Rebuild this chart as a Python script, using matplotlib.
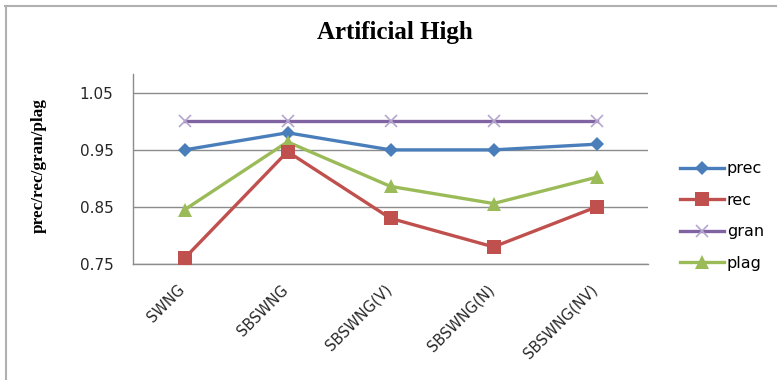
import matplotlib
matplotlib.use("Agg")
import matplotlib.pyplot as plt
import matplotlib.transforms as mtransforms
from matplotlib.lines import Line2D

categories = ["SWNG", "SBSWNG", "SBSWNG(V)", "SBSWNG(N)", "SBSWNG(NV)"]
prec = [0.95, 0.98, 0.95, 0.95, 0.96]
rec = [0.76, 0.947, 0.83, 0.78, 0.85]
gran = [1.0, 1.0, 1.0, 1.0, 1.0]
plag = [0.845, 0.964, 0.886, 0.856, 0.902]
y_ticks = [0.75, 0.85, 0.95, 1.05]
y_tick_labels = ["0.75", "0.85", "0.95", "1.05"]

W, H = 777, 380
fig = plt.figure(figsize=(W / 100, H / 100), dpi=100)

# chart frame (only top and left edges fall within the image)
fig.add_artist(Line2D([5 / W, 1.0], [1 - 5.5 / H, 1 - 5.5 / H],
                      color="#b0b0b0", lw=1.5, transform=fig.transFigure))
fig.add_artist(Line2D([6 / W, 6 / W], [0, 1 - 5.5 / H],
                      color="#b0b0b0", lw=1.5, transform=fig.transFigure))

ax = fig.add_axes([133 / W, 1 - 264 / H, (648 - 133) / W, (264 - 74) / H])

x = list(range(len(categories)))
ax.plot(x, gran, color="#8064A2", lw=2.4, marker="x", ms=9, mew=1.2,
        mec="#B5A6CF", label="gran", zorder=3)
ax.plot(x, prec, color="#4A7EBB", lw=2.4, marker="D", ms=7.5, mew=0,
        label="prec", zorder=4)
ax.plot(x, plag, color="#9BBB59", lw=2.4, marker="^", ms=10, mew=0,
        label="plag", zorder=4)
ax.plot(x, rec, color="#C0504D", lw=2.4, marker="s", ms=10, mew=0,
        label="rec", zorder=5)

ax.set_xlim(-0.5, len(categories) - 0.5)
ax.set_ylim(0.75, 1.083)
ax.set_yticks(y_ticks)
ax.set_yticklabels(y_tick_labels)
ax.yaxis.grid(True, color="#8c8c8c", lw=1)
ax.set_axisbelow(True)
ax.tick_params(axis="y", length=0, pad=14, labelsize=11, labelcolor="#262626")
ax.tick_params(axis="x", length=0, pad=13, labelsize=10.5, labelcolor="#262626")
ax.set_xticks(x)
ax.set_xticklabels(categories, rotation=45, ha="right", rotation_mode="anchor",
                   family="DejaVu Sans")
shift = mtransforms.ScaledTranslation(-7 / 100, 0, fig.dpi_scale_trans)
for lab in ax.get_xticklabels():
    lab.set_transform(lab.get_transform() + shift)

for s in ("top", "right"):
    ax.spines[s].set_visible(False)
for s in ("left", "bottom"):
    ax.spines[s].set_color("#8c8c8c")
    ax.spines[s].set_linewidth(1)

ax.set_ylabel("prec/rec/gran/plag", family="Liberation Serif", fontweight="bold",
              fontsize=12.3)
ax.yaxis.set_label_coords((47 - 133) / 515, 0.52)

fig.text(395 / W, 1 - 32 / H, "Artificial High", ha="center", va="center",
         family="Liberation Serif", fontweight="bold", fontsize=18)

handles, labels = ax.get_legend_handles_labels()
order = ["prec", "rec", "gran", "plag"]
hmap = dict(zip(labels, handles))
leg = fig.legend([hmap[k] for k in order], order, loc="center left",
                 bbox_to_anchor=(666 / W, 1 - 216 / H), frameon=False,
                 prop={"family": "DejaVu Sans", "size": 11.5}, handlelength=2.7,
                 labelspacing=1.03, handletextpad=0.2)

fig.savefig("out.png", dpi=100, facecolor="white")
